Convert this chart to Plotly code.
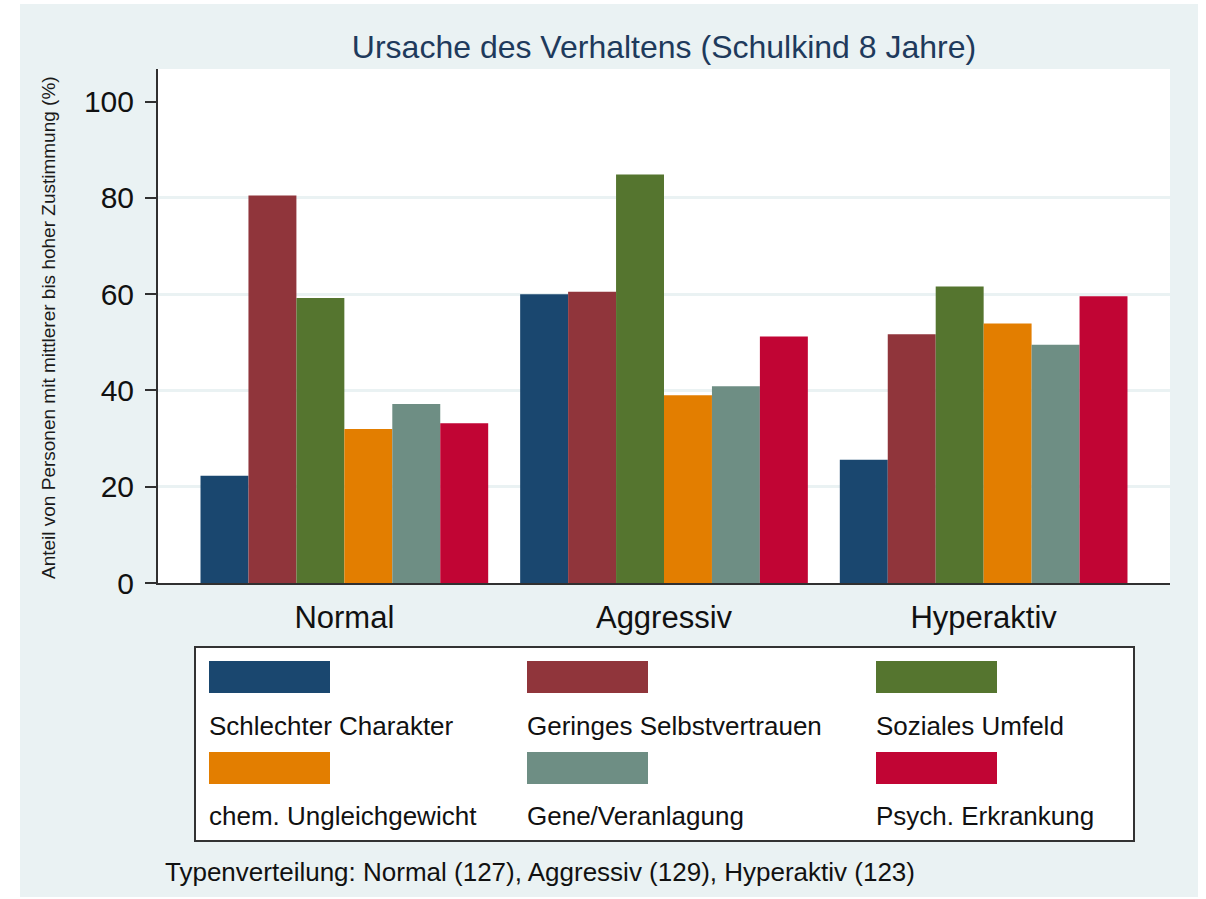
import plotly.graph_objects as go

# ---------------- data ----------------
categories = ["Normal", "Aggressiv", "Hyperaktiv"]
series_names = [
    "Schlechter Charakter",
    "Geringes Selbstvertrauen",
    "Soziales Umfeld",
    "chem. Ungleichgewicht",
    "Gene/Veranlagung",
    "Psych. Erkrankung",
]
schlechter_charakter = [22.3, 60.0, 25.6]
geringes_selbstvertrauen = [80.5, 60.5, 51.7]
soziales_umfeld = [59.2, 84.9, 61.6]
chem_ungleichgewicht = [32.0, 39.0, 53.9]
gene_veranlagung = [37.2, 40.9, 49.5]
psych_erkrankung = [33.2, 51.2, 59.6]
series_values = [
    schlechter_charakter,
    geringes_selbstvertrauen,
    soziales_umfeld,
    chem_ungleichgewicht,
    gene_veranlagung,
    psych_erkrankung,
]
colors = ["#1a476f", "#90353b", "#55752f", "#e37e00", "#6e8e84", "#c10534"]
y_tick_values = [0, 20, 40, 60, 80, 100]
grid_values = [20, 40, 60, 80]

title_text = "Ursache des Verhaltens (Schulkind 8 Jahre)"
y_title = "Anteil von Personen mit mittlerer bis hoher Zustimmung (%)"
note_text = "Typenverteilung: Normal (127), Aggressiv (129), Hyperaktiv (123)"

# ---------------- layout geometry (pixels) ----------------
W, H = 1206, 899
L, R, T, B = 158, 36, 69, 316
PW = W - L - R
PH = H - T - B


def px(x):
    return (x - L) / PW


def py(y):
    return (H - B - y) / PH


BG = "#eaf2f3"
FONT = "Liberation Sans, Arial, sans-serif"

fig = go.Figure()
for name, vals, col in zip(series_names, series_values, colors):
    fig.add_trace(
        go.Bar(
            x=categories,
            y=vals,
            name=name,
            marker=dict(color=col, line=dict(width=0)),
            showlegend=False,
        )
    )

shapes = [
    # outer light background
    dict(type="rect", xref="paper", yref="paper",
         x0=px(20), x1=px(1198), y0=py(897), y1=py(4),
         fillcolor=BG, line=dict(width=0), layer="below"),
    # white plot area
    dict(type="rect", xref="paper", yref="paper",
         x0=0, x1=1, y0=0, y1=1,
         fillcolor="white", line=dict(width=0), layer="below"),
    # legend box
    dict(type="rect", xref="paper", yref="paper",
         x0=px(195), x1=px(1134), y0=py(841), y1=py(647),
         fillcolor="white", line=dict(color="#333333", width=2), layer="above"),
]

annotations = [
    dict(text=y_title, xref="paper", yref="paper", x=px(48), y=py(328),
         textangle=-90, showarrow=False, xanchor="center", yanchor="middle",
         font=dict(family=FONT, size=19, color="#1a1a1a")),
    dict(text=note_text, xref="paper", yref="paper", x=px(163), y=py(872),
         showarrow=False, xanchor="left", yanchor="middle",
         font=dict(family=FONT, size=26, color="#111111")),
]

col_x = [209, 527, 876]
row_swatch_top = [661, 752]
row_label_y = [726, 816]
for i, (name, col) in enumerate(zip(series_names, colors)):
    r, c = divmod(i, 3)
    x0 = col_x[c]
    shapes.append(dict(type="rect", xref="paper", yref="paper",
                       x0=px(x0), x1=px(x0 + 121),
                       y0=py(row_swatch_top[r] + 32), y1=py(row_swatch_top[r]),
                       fillcolor=col, line=dict(width=0), layer="above"))
    annotations.append(dict(text=name, xref="paper", yref="paper",
                            x=px(x0 - 2), y=py(row_label_y[r]),
                            showarrow=False, xanchor="left", yanchor="middle",
                            font=dict(family=FONT, size=26, color="#111111")))

fig.update_layout(
    width=W,
    height=H,
    margin=dict(l=L, r=R, t=T, b=B, pad=0),
    paper_bgcolor="white",
    plot_bgcolor="white",
    barmode="group",
    bargap=0.1,
    bargroupgap=0,
    font=dict(family=FONT, color="#111111"),
    title=dict(text=title_text, x=px(664), xref="paper", xanchor="center",
               y=1 - 47 / H, yref="container", yanchor="middle",
               font=dict(family=FONT, size=32, color="#1e3a5c")),
    shapes=shapes,
    annotations=annotations,
    showlegend=False,
)

fig.update_xaxes(
    type="category",
    range=[-0.583, 2.583],
    showgrid=False,
    showline=True,
    linecolor="#303030",
    linewidth=2,
    ticks="",
    ticklabelstandoff=6,
    tickfont=dict(family=FONT, size=31, color="#111111"),
    zeroline=False,
)
fig.update_yaxes(
    range=[0, PH / 4.813],
    tickvals=y_tick_values,
    showgrid=False,
    showline=True,
    linecolor="#303030",
    linewidth=2,
    ticks="outside",
    ticklen=11,
    tickwidth=2,
    tickcolor="#303030",
    ticklabelstandoff=5,
    tickfont=dict(family=FONT, size=30, color="#111111"),
    zeroline=False,
    minor=dict(tickvals=grid_values, showgrid=True, gridcolor=BG, gridwidth=2.5, ticks=""),
)

fig.write_html("out.html", config={"displayModeBar": False},
               post_script="document.body.style.margin='0';")
